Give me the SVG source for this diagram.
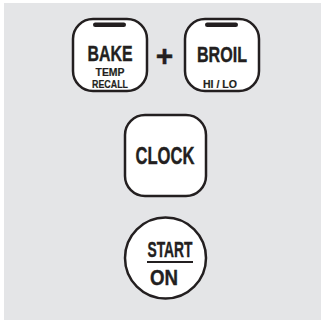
<svg xmlns="http://www.w3.org/2000/svg" width="321" height="320" viewBox="0 0 321 320">
<style>
.btn{fill:#fff;stroke:#231f20;stroke-width:2.5}
.bar{fill:#231f20}
.t{font-family:"Liberation Sans",Arial,sans-serif;font-weight:bold;fill:#231f20;stroke:#231f20;stroke-width:0.4;text-anchor:middle}
.big{font-size:22px}
.sm{font-size:11.5px;stroke-width:0.2}
</style>
<rect x="4" y="3" width="317" height="317" fill="#e4e5e7"/>
<g id="bake">
<rect class="btn" x="73" y="19" width="74" height="72" rx="20"/>
<rect class="bar" x="93" y="22.5" width="33" height="4.5" rx="2.25"/>
<text class="t big" x="110" y="61" textLength="45" lengthAdjust="spacingAndGlyphs">BAKE</text>
<text class="t sm" x="110" y="76" textLength="29" lengthAdjust="spacingAndGlyphs">TEMP</text>
<text class="t sm" x="110" y="87.5" textLength="36" lengthAdjust="spacingAndGlyphs">RECALL</text>
</g>
<g id="plus">
<text class="t" x="164.5" y="66" font-size="30" stroke-width="0.6">+</text>
</g>
<g id="broil">
<rect class="btn" x="185" y="19" width="74" height="72" rx="20"/>
<rect class="bar" x="205" y="22.5" width="33" height="4.5" rx="2.25"/>
<text class="t big" x="222" y="62" textLength="50" lengthAdjust="spacingAndGlyphs">BROIL</text>
<text class="t sm" x="220" y="87.5" textLength="34" lengthAdjust="spacingAndGlyphs">HI / LO</text>
</g>
<g id="clock">
<rect class="btn" x="125" y="115" width="81" height="81" rx="20"/>
<text class="t" x="165" y="164" font-size="23.5" textLength="59" lengthAdjust="spacingAndGlyphs">CLOCK</text>
</g>
<g id="start">
<circle class="btn" cx="165.5" cy="258" r="40.5"/>
<text class="t big" x="170" y="257" textLength="45" lengthAdjust="spacingAndGlyphs">START</text>
<line x1="147" y1="262" x2="193" y2="262" stroke="#231f20" stroke-width="2"/>
<text class="t big" x="164" y="285" textLength="28" lengthAdjust="spacingAndGlyphs">ON</text>
</g>
<g id="connectors"/>
</svg>
